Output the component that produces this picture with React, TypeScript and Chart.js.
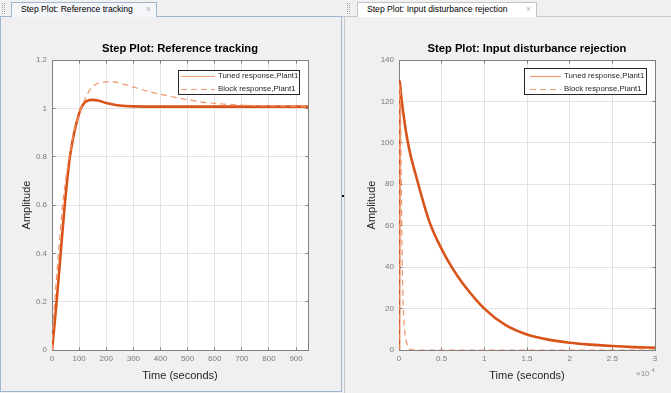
import React, { useEffect, useRef } from 'react';
import { Chart, registerables } from 'chart.js';

Chart.register(...registerables);

// ---------- Data: Reference tracking ----------
const refTunedTime = [0, 8, 17, 32, 47, 66, 82, 95, 107, 120, 135, 150, 170, 200, 240, 300, 400, 600, 944];
const refTunedAmp = [0, 0.09, 0.2, 0.4, 0.6, 0.8, 0.9, 0.96, 1.0, 1.024, 1.033, 1.035, 1.032, 1.022, 1.013, 1.008, 1.007, 1.007, 1.007];
const refBlockTime = [0, 4, 10, 24, 39, 50, 64, 85, 107, 116, 127, 138, 162, 190, 217, 273, 359, 470, 568, 691, 800, 944];
const refBlockAmp = [0, 0.1, 0.2, 0.4, 0.6, 0.7, 0.8, 0.92, 1.0, 1.025, 1.05, 1.074, 1.1, 1.108, 1.111, 1.097, 1.069, 1.042, 1.024, 1.014, 1.01, 1.007];
const refXTicks = ['0', '100', '200', '300', '400', '500', '600', '700', '800', '900'];
const refYTicks = ['0', '0.2', '0.4', '0.6', '0.8', '1', '1.2'];

// ---------- Data: Input disturbance rejection ----------
const distTunedTime = [0, 60, 150, 300, 1000, 2200, 3600, 5000, 6250, 7500, 10000, 12500, 15000, 17500, 20000, 22500, 25000, 27500, 30000];
const distTunedAmp = [0, 130, 127, 121, 101, 81, 61.5, 48.7, 39.5, 32, 20, 12, 7.5, 5, 3.5, 2.6, 1.9, 1.4, 1.1];
const distBlockTime = [0, 50, 150, 250, 350, 450, 550, 700, 900, 1100, 1400, 1800, 30000];
const distBlockAmp = [0, 128, 125, 90, 50, 28, 16, 8, 3.5, 1.2, 0.2, 0, 0];
const distXTicks = ['0', '0.5', '1', '1.5', '2', '2.5', '3'];
const distYTicks = ['0', '20', '40', '60', '80', '100', '120', '140'];

const legendLabels = ['Tuned response,Plant1', 'Block response,Plant1'];
const plotTitles = ['Step Plot: Reference tracking', 'Step Plot: Input disturbance rejection'];
const tabTitles = ['Step Plot: Reference tracking', 'Step Plot: Input disturbance rejection'];
const xAxisTitle = 'Time (seconds)';
const yAxisTitle = 'Amplitude';

const FONT = '"Liberation Sans", Arial, Helvetica, sans-serif';
const W = 671;
const H = 393;

type Spec = {
  area: { left: number; top: number; right: number; bottom: number };
  padLeft: number;
  xMax: number;
  xStep: number;
  yMax: number;
  yStep: number;
  xTicks: string[];
  yTicks: string[];
  tunedT: number[];
  tunedA: number[];
  blockT: number[];
  blockA: number[];
  title: string;
  titleY: number;
  yLabelX: number;
  xLabelY: number;
  legend: { x: number; y: number; w: number; h: number; rows: number[]; l0: number; l1: number; tx: number };
  exponent?: boolean;
};

const leftSpec: Spec = {
  area: { left: 52, top: 60, right: 308, bottom: 350 },
  padLeft: 0,
  xMax: 944,
  xStep: 100,
  yMax: 1.2,
  yStep: 0.2,
  xTicks: refXTicks,
  yTicks: refYTicks,
  tunedT: refTunedTime,
  tunedA: refTunedAmp,
  blockT: refBlockTime,
  blockA: refBlockAmp,
  title: plotTitles[0],
  titleY: 49,
  yLabelX: 27,
  xLabelY: 376,
  legend: { x: 178, y: 70, w: 121, h: 24, rows: [76, 88.5], l0: 181, l1: 215, tx: 218 },
};

const rightSpec: Spec = {
  area: { left: 399, top: 60, right: 655, bottom: 350 },
  padLeft: 345,
  xMax: 30000,
  xStep: 5000,
  yMax: 140,
  yStep: 20,
  xTicks: distXTicks,
  yTicks: distYTicks,
  tunedT: distTunedTime,
  tunedA: distTunedAmp,
  blockT: distBlockTime,
  blockA: distBlockAmp,
  title: plotTitles[1],
  titleY: 49,
  yLabelX: 372,
  xLabelY: 376,
  legend: { x: 524, y: 68, w: 122, h: 26, rows: [75.5, 89], l0: 530, l1: 561, tx: 564 },
  exponent: true,
};

function makeDecor(spec: Spec) {
  return {
    id: 'decor',
    beforeDraw(chart: any) {
      const { ctx, chartArea: a } = chart;
      ctx.save();
      ctx.fillStyle = '#ffffff';
      ctx.fillRect(a.left, a.top, a.right - a.left, a.bottom - a.top);
      ctx.restore();
    },
    beforeDatasetsDraw(chart: any) {
      const { ctx, chartArea: a, scales } = chart;
      const x0 = Math.floor(a.left) + 0.5;
      const x1 = Math.floor(a.right) + 0.5;
      const y0 = Math.floor(a.top) + 0.5;
      const y1 = Math.floor(a.bottom) + 0.5;
      ctx.save();
      ctx.strokeStyle = '#7f7f7f';
      ctx.lineWidth = 1;
      ctx.strokeRect(x0, y0, x1 - x0, y1 - y0);
      const tl = 3;
      ctx.beginPath();
      scales.x.ticks.forEach((t: any) => {
        const px = Math.floor(scales.x.getPixelForValue(t.value)) + 0.5;
        ctx.moveTo(px, y1);
        ctx.lineTo(px, y1 - tl);
        ctx.moveTo(px, y0);
        ctx.lineTo(px, y0 + tl);
      });
      scales.y.ticks.forEach((t: any) => {
        const py = Math.floor(scales.y.getPixelForValue(t.value)) + 0.5;
        ctx.moveTo(x0, py);
        ctx.lineTo(x0 + tl, py);
        ctx.moveTo(x1, py);
        ctx.lineTo(x1 - tl, py);
      });
      ctx.stroke();
      ctx.restore();
    },
    afterDraw(chart: any) {
      const { ctx, chartArea: a } = chart;
      ctx.save();
      // title
      ctx.fillStyle = '#000000';
      ctx.font = `bold 11.2px ${FONT}`;
      ctx.textAlign = 'center';
      ctx.textBaseline = 'middle';
      ctx.fillText(spec.title, (a.left + a.right) / 2, spec.titleY);
      // x label
      ctx.fillStyle = '#262626';
      ctx.font = `11px ${FONT}`;
      ctx.fillText(xAxisTitle, (a.left + a.right) / 2, spec.xLabelY);
      // y label
      ctx.save();
      ctx.translate(spec.yLabelX, (a.top + a.bottom) / 2);
      ctx.rotate(-Math.PI / 2);
      ctx.fillText(yAxisTitle, 0, 0);
      ctx.restore();
      // exponent
      if (spec.exponent) {
        ctx.fillStyle = '#8a8a8a';
        ctx.textAlign = 'left';
        ctx.font = `8px ${FONT}`;
        ctx.fillText('\u00d710', 636, 373.5);
        ctx.font = `6px ${FONT}`;
        ctx.fillText('4', 651.5, 370);
      }
      // legend
      const L = spec.legend;
      ctx.fillStyle = '#ffffff';
      ctx.fillRect(L.x, L.y, L.w, L.h);
      ctx.strokeStyle = '#262626';
      ctx.lineWidth = 1;
      ctx.strokeRect(L.x + 0.5, L.y + 0.5, L.w, L.h);
      ctx.font = `7.8px ${FONT}`;
      ctx.textAlign = 'left';
      ctx.textBaseline = 'middle';
      legendLabels.forEach((lab, i) => {
        const ry = Math.round(L.rows[i]) + 0.5;
        ctx.strokeStyle = '#f09a72';
        ctx.lineWidth = 1.2;
        ctx.setLineDash(i === 1 ? [6, 4] : []);
        ctx.beginPath();
        ctx.moveTo(L.l0, ry);
        ctx.lineTo(L.l1, ry);
        ctx.stroke();
        ctx.setLineDash([]);
        ctx.fillStyle = '#262626';
        ctx.fillText(lab, L.tx, L.rows[i]);
      });
      ctx.restore();
    },
  };
}

function buildChart(canvas: HTMLCanvasElement, spec: Spec) {
  const tuned = spec.tunedT.map((t, i) => ({ x: t, y: spec.tunedA[i] }));
  const block = spec.blockT.map((t, i) => ({ x: t, y: spec.blockA[i] }));
  const tickFont = { family: FONT, size: 8 };
  return new Chart(canvas, {
    type: 'scatter',
    data: {
      datasets: [
        {
          label: legendLabels[0],
          data: tuned,
          showLine: true,
          borderColor: '#d95319',
          borderWidth: 2.6,
          pointRadius: 0,
          cubicInterpolationMode: 'monotone',
          order: 1,
        },
        {
          label: legendLabels[1],
          data: block,
          showLine: true,
          borderColor: '#f0946a',
          borderWidth: 1.2,
          borderDash: [6, 4],
          pointRadius: 0,
          cubicInterpolationMode: 'monotone',
          order: 0,
        },
      ],
    } as any,
    options: {
      responsive: false,
      animation: false,
      events: [],
      layout: {
        padding: {
          left: spec.padLeft,
          top: spec.area.top,
          right: W - spec.area.right,
          bottom: H - spec.area.bottom - 20,
        },
      },
      plugins: {
        legend: { display: false },
        title: { display: false },
        tooltip: { enabled: false },
      },
      scales: {
        x: {
          type: 'linear',
          position: 'bottom',
          min: 0,
          max: spec.xMax,
          afterFit: (s: any) => {
            s.height = 20;
          },
          grid: { color: '#e2e2e2', drawTicks: false },
          border: { display: false },
          ticks: {
            stepSize: spec.xStep,
            includeBounds: false,
            autoSkip: false,
            maxRotation: 0,
            padding: 4,
            color: '#7a7a7a',
            font: tickFont,
            callback: (_v: any, i: number) => spec.xTicks[i],
          },
        },
        y: {
          type: 'linear',
          position: 'left',
          min: 0,
          max: spec.yMax,
          afterFit: (s: any) => {
            s.width = spec.area.left - spec.padLeft;
          },
          grid: { color: '#e2e2e2', drawTicks: false },
          border: { display: false },
          ticks: {
            stepSize: spec.yStep,
            includeBounds: false,
            autoSkip: false,
            padding: 5,
            color: '#7a7a7a',
            font: tickFont,
            callback: (_v: any, i: number) => spec.yTicks[i],
          },
        },
      },
    } as any,
    plugins: [makeDecor(spec)],
  });
}

function ChartCanvas({ spec }: { spec: Spec }) {
  const ref = useRef<HTMLCanvasElement | null>(null);
  useEffect(() => {
    if (!ref.current) return;
    const chart = buildChart(ref.current, spec);
    return () => chart.destroy();
  }, [spec]);
  return (
    <canvas
      ref={ref}
      width={W}
      height={H}
      style={{ position: 'absolute', left: 0, top: 0, width: W, height: H }}
    />
  );
}

function Gripper({ left }: { left: number }) {
  return (
    <div
      style={{
        position: 'absolute',
        left,
        top: 3,
        width: 3,
        height: 11,
        borderLeft: '1px dotted #a0a0a0',
        borderRight: '1px dotted #a0a0a0',
        boxSizing: 'border-box',
      }}
    />
  );
}

function Tab({ left, width, title, selected }: { left: number; width: number; title: string; selected: boolean }) {
  return (
    <div
      style={{
        position: 'absolute',
        left,
        top: 2,
        width,
        height: 15,
        boxSizing: 'border-box',
        border: `1px solid ${selected ? '#9fb6d2' : '#c4c4c4'}`,
        borderBottom: 'none',
        background: selected ? '#f4f6f9' : '#ffffff',
        fontFamily: FONT,
        fontSize: 8.6,
        color: '#000',
        lineHeight: '13px',
        paddingLeft: 9,
        whiteSpace: 'nowrap',
      }}
    >
      {title}
      <span style={{ position: 'absolute', right: 5, top: 0, color: '#b4b4b4', fontSize: 9 }}>{'\u00d7'}</span>
    </div>
  );
}

export default function App() {
  return (
    <div
      style={{
        position: 'fixed',
        left: 0,
        top: 0,
        width: W,
        height: H,
        background: '#f0f0f0',
        overflow: 'hidden',
      }}
    >
      {/* tab strip line */}
      <div style={{ position: 'absolute', left: 0, top: 16, width: W, height: 1, background: '#c8c8c8' }} />
      {/* left panel (selected) border */}
      <div
        style={{
          position: 'absolute',
          left: 0,
          top: 16,
          width: 342,
          height: 376,
          boxSizing: 'border-box',
          border: '1px solid #9fb6d2',
        }}
      />
      {/* right panel border */}
      <div style={{ position: 'absolute', left: 344, top: 16, width: 1, height: H - 16, background: '#c8c8c8' }} />
      {/* splitter marker */}
      <div style={{ position: 'absolute', left: 342, top: 195, width: 2, height: 2, background: '#000' }} />
      <Gripper left={2} />
      <Gripper left={347} />
      <Tab left={11} width={146} title={tabTitles[0]} selected={true} />
      <Tab left={357} width={180} title={tabTitles[1]} selected={false} />
      <ChartCanvas spec={leftSpec} />
      <ChartCanvas spec={rightSpec} />
    </div>
  );
}
